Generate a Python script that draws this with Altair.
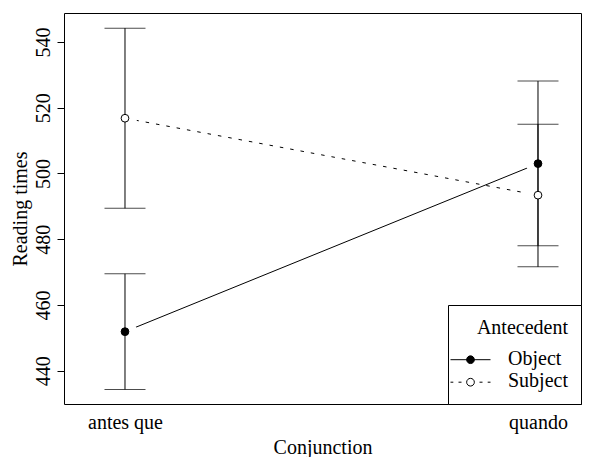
import altair as alt
import pandas as pd

# ---- data ----
conjunctions = ["antes que", "quando", "antes que", "quando"]
antecedents = ["Object", "Object", "Subject", "Subject"]
means = [451.9, 503.0, 516.8, 493.4]
lowers = [434.3, 478.0, 489.4, 471.6]
uppers = [469.5, 528.1, 544.2, 515.0]
y_ticks = [440, 460, 480, 500, 520, 540]
levels = ["Object", "Subject"]
fills = ["black", "white"]
conj_order = ["antes que", "quando"]

df = pd.DataFrame({
    "Conjunction": conjunctions,
    "Antecedent": antecedents,
    "mean": means,
    "lo": lowers,
    "hi": uppers,
})
df["fillc"] = df["Antecedent"].map(dict(zip(levels, fills)))
legend_df = pd.DataFrame({"Antecedent": levels})

FONT = "Liberation Serif"

# legend symbols: line + circle (custom paths, unit coordinates, raised
# so that they sit on the label's x-height centre)
cy = -0.88
circ = (f"M-0.385,{cy}A0.385,0.385,0,1,0,0.385,{cy}"
        f"A0.385,0.385,0,1,0,-0.385,{cy}Z")
obj_path = f"M-2,{cy}L2,{cy}" + circ
subj_path = (f"M-2,{cy}L-1.72,{cy}M-1.2,{cy}L-0.9,{cy}"
             f"M0.9,{cy}L1.2,{cy}M1.72,{cy}L2,{cy}" + circ)

x_scale = alt.Scale(type="point", domain=conj_order, padding=0.1259, align=0.5865)
x_axis = alt.Axis(title="Conjunction", labelAngle=0, ticks=False,
                  domain=False, grid=False, labelPadding=8, titlePadding=5)
y_scale = alt.Scale(domain=[429.9, 548.8], nice=False, zero=False)
y_axis = alt.Axis(title="Reading times", values=y_ticks, labelAngle=270,
                  labelAlign="center", labelBaseline="bottom", labelPadding=4,
                  tickSize=7, domain=False, grid=False, titlePadding=3)


def X():
    return alt.X("Conjunction:N", scale=x_scale, axis=x_axis)


def Y(field):
    return alt.Y(field, scale=y_scale, axis=y_axis)


base = alt.Chart(df)

line_obj = base.transform_filter(alt.datum.Antecedent == "Object").mark_line(
    color="black", strokeWidth=1
).encode(x=X(), y=Y("mean:Q"))

line_subj = base.transform_filter(alt.datum.Antecedent == "Subject").mark_line(
    color="black", strokeWidth=1, strokeDash=[3.5, 7]
).encode(x=X(), y=Y("mean:Q"))

halo = base.mark_point(filled=True, color="white", opacity=1, size=576).encode(
    x=X(), y=Y("mean:Q"),
)

rules = base.mark_rule(color="black", strokeWidth=1).encode(
    x=X(), y=Y("lo:Q"), y2="hi:Q",
)

caps_lo = base.mark_tick(orient="horizontal", size=41, thickness=1, color="black").encode(
    x=X(), y=Y("lo:Q"),
)
caps_hi = base.mark_tick(orient="horizontal", size=41, thickness=1, color="black").encode(
    x=X(), y=Y("hi:Q"),
)

points = base.mark_point(shape="circle", size=60, stroke="black", strokeWidth=1,
                         opacity=1).encode(
    x=X(), y=Y("mean:Q"),
    fill=alt.Fill("fillc:N", scale=None),
)

legend_layer = alt.Chart(legend_df).mark_point(
    stroke="black", strokeWidth=1, opacity=1
).encode(
    x=alt.value(-1000),
    y=alt.value(-1000),
    shape=alt.Shape("Antecedent:N",
                    scale=alt.Scale(domain=levels, range=[obj_path, subj_path]),
                    legend=alt.Legend(
                        title="Antecedent", orient="bottom-right", offset=0,
                        padding=13, strokeColor="black", fillColor="white",
                        cornerRadius=0, titleAnchor="end", titleFontSize=20,
                        titleFont=FONT, titleFontWeight="normal", titleColor="black",
                        titlePadding=20, labelFont=FONT, labelFontSize=20,
                        labelColor="black", labelBaseline="bottom",
                        symbolSize=400, symbolStrokeWidth=1,
                        symbolStrokeColor="black", symbolOffset=-1, labelOffset=27,
                        rowPadding=1.5)),
    fill=alt.Fill("Antecedent:N", scale=alt.Scale(domain=levels, range=fills)),
)

chart = alt.layer(line_obj, line_subj, halo, rules, caps_lo, caps_hi, points,
                  legend_layer).properties(
    width=517, height=391,
    autosize=alt.AutoSizeParams(type="none"),
    padding={"left": 56, "top": 5, "right": 1, "bottom": 53},
).configure_view(
    stroke="black", strokeWidth=1
).configure_axis(
    labelFont=FONT, titleFont=FONT, labelFontSize=20, titleFontSize=20,
    labelColor="black", titleColor="black", tickColor="black",
    titleFontWeight="normal",
)

chart.save("out.html", embed_options={"renderer": "svg", "actions": False})
